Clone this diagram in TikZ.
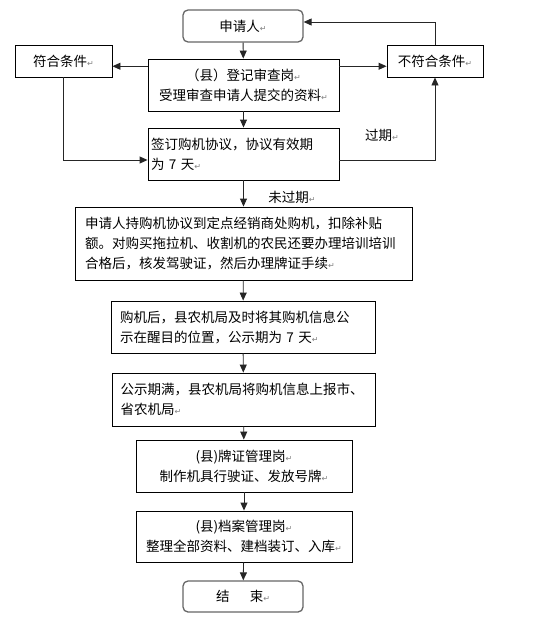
\documentclass[tikz,border=0pt]{standalone}
\usepackage{fontspec}
\setmainfont{Noto Sans CJK SC}
\newfontfamily\markfont{DejaVu Sans}
\usetikzlibrary{arrows.meta,calc}
\usepackage{xcolor}
\newcommand\retmark{{\markfont\color{gray}\fontsize{8pt}{8pt}\selectfont ↵}}

\begin{document}
\begin{tikzpicture}[x=1pt,y=-1pt,
        box/.style={draw,line width=0.9pt,inner sep=0pt,font=\fontsize{13.5pt}{20pt}\selectfont},
        endbox/.style={box,draw=gray!80!black,line width=1.3pt,rounded corners=5pt},
        conn/.style={line width=0.9pt,draw=black!85,-{Triangle[length=8pt,width=7pt]}},
        lbl/.style={font=\fontsize{13.5pt}{20pt}\selectfont}]
        \useasboundingbox (0,0) rectangle (547,624);
        \node[endbox,minimum width=120pt,minimum height=32pt] (start) at (243,26) {申请人\retmark};
        \node[box,minimum width=191pt,minimum height=52pt,align=center] (reg) at (243.5,85) {（县）登记审查岗\retmark\\受理审查申请人提交的资料\retmark};
        \node[box,minimum width=97pt,minimum height=32pt] (ok) at (63.5,61) {符合条件\retmark};
        \node[box,minimum width=96pt,minimum height=32pt] (nok) at (435,61) {不符合条件\retmark};
        \node[box,minimum width=191pt,minimum height=52pt,text width=185pt,align=left] (sign) at (243.5,154) {签订购机协议，协议有效期\\为 7 天\retmark};
        \node[box,minimum width=337pt,minimum height=73pt,text width=317pt,align=left] (buy) at (243.5,243.5) {申请人持购机协议到定点经销商处购机，扣除补贴\\额。对购买拖拉机、收割机的农民还要办理培训培训\\合格后，核发驾驶证，然后办理牌证手续\retmark};
        \node[box,minimum width=264pt,minimum height=52pt,text width=246pt,align=left] (pub) at (243,327) {购机后，县农机局及时将其购机信息公\\示在醒目的位置，公示期为 7 天\retmark};
        \node[box,minimum width=263pt,minimum height=53pt,text width=246pt,align=left] (rep) at (243.5,399.5) {公示期满，县农机局将购机信息上报市、\\省农机局\retmark};
        \node[box,minimum width=216pt,minimum height=52pt,align=center] (lic) at (244,466) {(县)牌证管理岗\retmark\\制作机具行驶证、发放号牌\retmark};
        \node[box,minimum width=216pt,minimum height=51pt,align=center] (arch) at (244,536.5) {(县)档案管理岗\retmark\\整理全部资料、建档装订、入库\retmark};
        \node[endbox,minimum width=120pt,minimum height=31pt] (end) at (243,596.5) {结\hspace{1.5em}束\retmark};
        \node[lbl] (late) at (382,135) {过期\retmark};
        \node[lbl] (intime) at (292,197) {未过期\retmark};
        \coordinate (rl) at ($(reg.north west)+(0,7.7)$);
        \coordinate (rr) at ($(reg.north east)+(0,7.7)$);
        \draw[conn] (start) -- (reg);
        \draw[conn] (rl) -- (rl -| ok.east);
        \draw[conn] (rr) -- (rr -| nok.west);
        \draw[conn] (nok.north) |- ($(start.east)+(0,-4)$);
        \draw[conn] (ok.south) |- ($(sign.west)+(0,6)$);
        \draw[conn] ($(sign.east)+(0,6)$) -| (nok.south);
        \draw[conn] (reg) -- (sign);
        \draw[conn] (sign) -- (buy);
        \draw[conn] (buy) -- (pub);
        \draw[conn] (pub) -- (rep);
        \draw[conn] (rep) -- (lic);
        \draw[conn] (lic) -- (arch);
        \draw[conn] (arch) -- (end);
      \end{tikzpicture}
\end{document}
